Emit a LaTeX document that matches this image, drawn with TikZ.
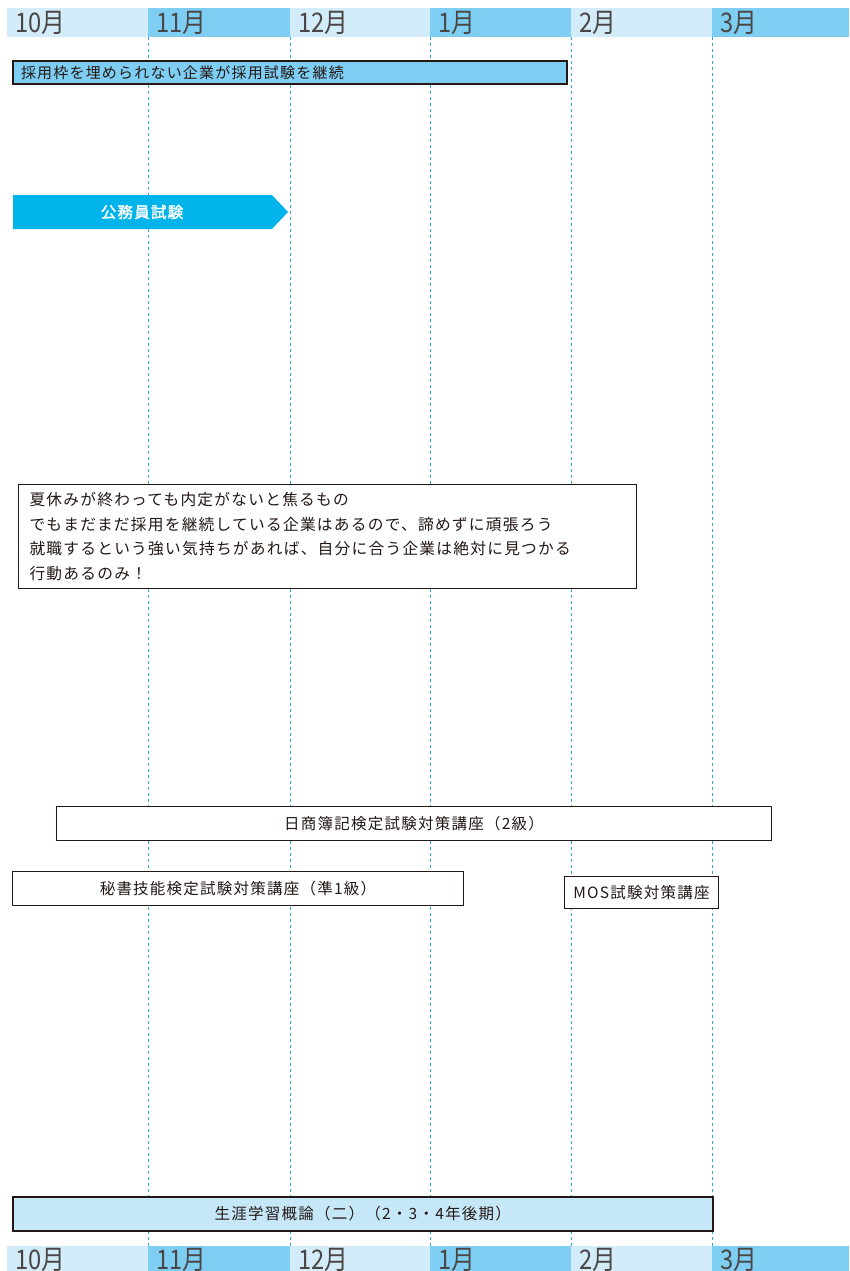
\documentclass[tikz,border=0pt]{standalone}
\usepackage{fontspec}
\setmainfont{Noto Sans CJK JP}[LetterSpace=8]
\newfontfamily\jpbold[FakeBold=2,LetterSpace=8]{Noto Sans CJK JP}
\newfontfamily\monthfont[FakeStretch=0.88]{Noto Sans CJK JP}
\definecolor{hdrlight}{HTML}{D3ECF9}
\definecolor{hdrdark}{HTML}{7ECEF4}
\definecolor{gridblue}{HTML}{2EA7E0}
\definecolor{arrowcyan}{HTML}{00B3EA}
\definecolor{barblue}{HTML}{7ECEF4}
\definecolor{lifeblue}{HTML}{C6E7F8}
\definecolor{textdark}{HTML}{231815}
\definecolor{monthgray}{HTML}{4A4645}
\tikzset{
  cellA/.style={fill=hdrlight, draw=none},
  cellB/.style={fill=hdrdark, draw=none},
  monthlabel/.style={anchor=west, inner sep=0pt, text=monthgray, font=\monthfont\fontsize{27}{27}\selectfont},
  gridline/.style={draw=gridblue, line width=0.9pt, dash pattern=on 3pt off 3pt},
  bar/.style={draw=textdark, line width=1pt, fill=white, text=textdark, anchor=north west,
    font=\fontsize{15.5}{15.5}\selectfont, inner sep=0pt}
}
\begin{document}
\begin{tikzpicture}[x=1pt,y=-1pt]
\useasboundingbox (0,0) rectangle (849,1271);
% header cells
\foreach \i/\xa/\xb/\st/\lab in {1/7/148/cellA/10月, 2/148/290/cellB/11月, 3/290/430/cellA/12月, 4/430/571/cellB/1月, 5/571/712/cellA/2月, 6/712/849/cellB/3月}{
  \fill[\st] (\xa,8) rectangle (\xb,37);
  \node[monthlabel] (top\i) at (\xa+8,22.5) {\lab};
  \fill[\st] (\xa,1246) rectangle (\xb,1271);
  \node[monthlabel] (bot\i) at (\xa+8,1259.5) {\lab};
}
% grid lines
\foreach \x in {148,290,430,571,712}{
  \draw[gridline] (\x,37) -- (\x,1246);
}
% box 1
\node[bar, fill=barblue, line width=2pt, minimum height=23pt, text width=538pt, inner xsep=8pt, align=left, font=\fontsize{15}{15}\selectfont] (recruit) at (12,60) {採用枠を埋められない企業が採用試験を継続};
% arrow
\fill[arrowcyan] (13,195) -- (272,195) -- (288,212) -- (272,229) -- (13,229) -- cycle;
\node[text=white, font=\jpbold\fontsize{15.5}{15.5}\selectfont, inner sep=0pt] (koumuin) at (142,212) {公務員試験};
% text box
\node[bar, minimum height=104pt, text width=596pt, inner xsep=11pt, align=left, font=\fontsize{15.7}{24.5}\selectfont] (msg) at (18,484) {夏休みが終わっても内定がないと焦るもの\\でもまだまだ採用を継続している企業はあるので、諦めずに頑張ろう\\就職するという強い気持ちがあれば、自分に合う企業は絶対に見つかる\\行動あるのみ！};
% courses
\node[bar, minimum width=715pt, minimum height=34pt] (boki) at (56,806) {日商簿記検定試験対策講座（2級）};
\node[bar, minimum width=451pt, minimum height=34pt] (hisho) at (12,871) {秘書技能検定試験対策講座（準1級）};
\node[bar, minimum width=154pt, minimum height=32pt] (mos) at (564,876) {MOS試験対策講座};
\node[bar, fill=lifeblue, line width=1.5pt, minimum width=700pt, minimum height=34pt] (shogai) at (12,1196) {生涯学習概論（二）（2・3・4年後期）};
\end{tikzpicture}
\end{document}
